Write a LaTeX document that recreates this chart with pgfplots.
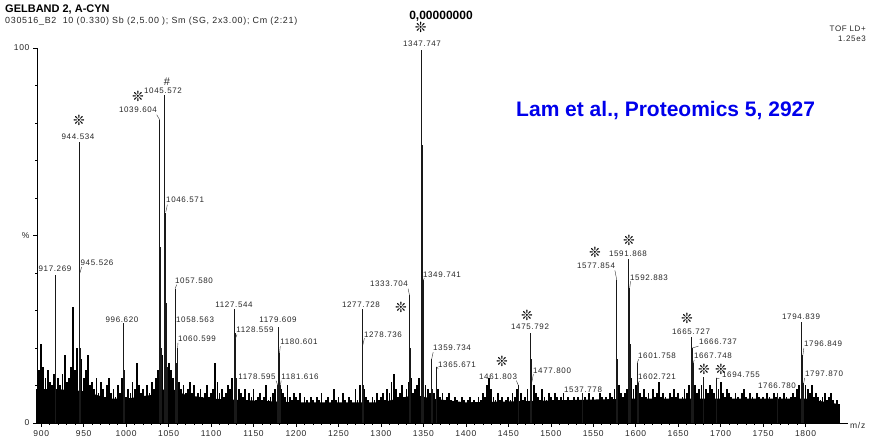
\documentclass[border=0pt]{standalone}
\usepackage{pgfplots}
\pgfplotsset{compat=1.18}
\usepackage{fontspec}
\setmainfont{Liberation Sans}
\newfontfamily\lab[LetterSpace=8]{Liberation Sans}
\newfontfamily\sym{DejaVu Sans}
\definecolor{lamblue}{RGB}{0,0,235}
\newcommand{\pk}{\fontsize{8}{8}\lab}
\newcommand{\aster}{❊}
\begin{document}
\begin{tikzpicture}[x=1pt,y=1pt]
\path[use as bounding box] (-37,-15) rectangle (835,423);
\begin{axis}[
  scale only axis, width=811pt, height=375pt,
  at={(0,0)}, anchor=south west,
  xmin=895, xmax=1850, ymin=0, ymax=100,
  axis lines=left, axis line style={-, line width=0.6pt},
  tick align=outside, major tick length=4pt, minor tick length=2pt,
  tick style={line width=0.5pt, black},
  xtick={900,950,...,1800},
  xticklabels={900,950,1000,1050,1100,1150,1200,1250,1300,1350,1400,1450,1500,1550,1600,1650,1700,1750,1800},
  minor x tick num=4,
  ytick={0,50,100}, yticklabels={0,\%,100}, minor y tick num=4,
  x tick label style={font=\fontsize{8.5}{8.5}\lab, text=black!85},
  y tick label style={font=\fontsize{8.5}{8.5}\lab, text=black!85},
  clip=false,
]
% baseline fill
\addplot[fill=black, draw=none] coordinates {(895,9)(920,9)(950,8.5)(980,6.5)(1000,6.5)(1030,7.5)(1050,9.5)(1070,7.5)(1100,6.5)(1150,6)(1200,5.5)(1300,5.5)(1340,7.5)(1360,6.5)(1400,5.5)(1500,6)(1600,6.5)(1700,6.5)(1800,6.5)(1840,5)} \closedcycle;
% noise
\addplot[ycomb, black, line width=1.8pt, mark=none] coordinates {
(895,9)(897.5,14)(900,21)(902.5,15)(905,12)(907.5,14)(910,11)(912.5,10)(915,13)(920,12)
(922.5,10)(925,13)(927.5,18)(930,11)(932.5,12)(935,15)(937.5,31)(940,14)(942.5,20)(947.5,17)
(950,12)(952.5,14)(955,18)(957.5,10)(960,11)(962.5,9)(965,12)(967.5,8)(970,11)(972.5,9)
(975,7)(977.5,10)(980,12)(982.5,8)(985,9)(987.5,7)(990,10)(992.5,8)(995,12)(997.5,13)
(1000,7)(1002.5,9)(1005,8)(1007.5,11)(1010,9)(1012.5,16)(1015,10)(1017.5,8)(1020,9)(1022.5,7)
(1025,10)(1027.5,8)(1030,11)(1032.5,9)(1035,12)(1037.5,14)(1042.5,18)(1050,16)(1052.5,14)(1055,12)
(1062.5,11)(1065,9)(1067.5,10)(1070,8)(1072.5,9)(1075,11)(1077.5,8)(1080,10)(1082.5,7)(1085,8)
(1087.5,9)(1090,7)(1092.5,8)(1095,10)(1097.5,7)(1100,8)(1102.5,9)(1105,16)(1107.5,11)(1110,8)
(1112.5,9)(1115,7)(1117.5,8)(1120,10)(1122.5,9)(1125,12)(1130,12)(1132.5,9)(1135,8)(1137.5,7)
(1140,9)(1142.5,6)(1145,8)(1147.5,7)(1150,9)(1152.5,6)(1155,7)(1157.5,8)(1160,6)(1162.5,7)
(1165,10)(1167.5,6)(1170,7)(1172.5,8)(1175,9)(1182.5,9)(1185,8)(1187.5,7)(1190,10)(1192.5,7)
(1195,6)(1197.5,8)(1200,7)(1202.5,6)(1205,8)(1207.5,5)(1210,7)(1212.5,6)(1215,5)(1217.5,7)
(1220,6)(1222.5,5)(1225,7)(1227.5,6)(1230,8)(1232.5,5)(1235,6)(1237.5,7)(1240,5)(1242.5,6)
(1245,9)(1247.5,6)(1250,7)(1252.5,5)(1255,8)(1257.5,6)(1260,5)(1262.5,7)(1265,6)(1267.5,5)
(1270,9)(1272.5,6)(1275,10)(1280,9)(1282.5,7)(1285,6)(1287.5,5)(1290,7)(1292.5,6)(1295,8)
(1297.5,6)(1300,7)(1302.5,8)(1305,6)(1307.5,9)(1310,8)(1312.5,11)(1315,13)(1317.5,9)(1320,7)
(1322.5,8)(1325,10)(1327.5,7)(1330,9)(1332.5,11)(1335,12)(1337.5,8)(1340,9)(1342.5,10)(1345,12)
(1350,14)(1352.5,10)(1355,9)(1357.5,8)(1362.5,8)(1367.5,9)(1370,7)(1372.5,8)(1375,6)(1377.5,7)
(1380,8)(1382.5,6)(1385,5)(1387.5,7)(1390,6)(1392.5,5)(1395,7)(1397.5,6)(1400,5)(1402.5,6)
(1405,7)(1407.5,5)(1410,6)(1412.5,5)(1415,7)(1417.5,6)(1420,8)(1422.5,7)(1425,10)(1427.5,12)
(1430,9)(1432.5,7)(1435,6)(1437.5,8)(1440,6)(1442.5,7)(1445,5)(1447.5,6)(1450,7)(1452.5,6)
(1455,8)(1457.5,7)(1460,9)(1465,8)(1467.5,6)(1470,7)(1472.5,9)(1480,10)(1482.5,8)(1485,7)
(1487.5,6)(1490,9)(1492.5,7)(1495,6)(1497.5,8)(1500,7)(1502.5,6)(1505,8)(1507.5,7)(1510,6)
(1512.5,7)(1515,8)(1517.5,6)(1520,7)(1522.5,5)(1525,6)(1527.5,7)(1530,6)(1532.5,7)(1535,6)
(1540,7)(1542.5,6)(1545,8)(1547.5,6)(1550,7)(1552.5,5)(1555,6)(1557.5,8)(1560,7)(1562.5,6)
(1565,7)(1567.5,6)(1570,8)(1572.5,7)(1575,9)(1580,10)(1582.5,8)(1585,7)(1587.5,8)(1590,9)
(1595,12)(1597.5,9)(1600,10)(1605,8)(1607.5,7)(1610,9)(1612.5,7)(1615,8)(1617.5,6)(1620,9)
(1622.5,7)(1625,8)(1627.5,11)(1630,7)(1632.5,8)(1635,7)(1637.5,6)(1640,8)(1642.5,7)(1645,9)
(1647.5,7)(1650,8)(1652.5,6)(1655,7)(1657.5,9)(1660,8)(1662.5,10)(1670,10)(1672.5,8)(1675,9)
(1677.5,10)(1682.5,9)(1685,8)(1687.5,10)(1690,9)(1692.5,8)(1697.5,9)(1700,11)(1702.5,8)(1705,7)
(1707.5,9)(1710,8)(1712.5,7)(1715,6)(1717.5,8)(1720,7)(1722.5,6)(1725,8)(1727.5,9)(1730,7)
(1732.5,6)(1735,8)(1737.5,7)(1740,6)(1742.5,8)(1745,7)(1747.5,6)(1750,7)(1752.5,6)(1755,8)
(1757.5,7)(1760,6)(1762.5,8)(1765,7)(1770,7)(1772.5,6)(1775,8)(1777.5,7)(1780,6)(1782.5,7)
(1785,8)(1787.5,7)(1790,9)(1792.5,10)(1800,10)(1802.5,9)(1805,8)(1807.5,10)(1810,7)(1812.5,8)
(1815,7)(1817.5,6)(1820,7)(1822.5,8)(1825,6)(1827.5,7)(1830,8)(1832.5,6)(1835,5)(1837.5,6)(1840,5)
};
% main peaks
\addplot[ycomb, black!90, line width=1pt, mark=none] coordinates {
(917.269,39.5)(944.534,75)(945.526,40)(946.5,20)(996.620,26.7)(997.6,14)
(1039.604,80.8)(1040.6,47)(1041.6,20)(1045.572,87.5)(1046.571,56)(1047.57,32)(1048.6,15)
(1057.580,35.7)(1058.563,25.3)(1059.6,16)(1060.599,20)
(1127.544,30.4)(1128.559,24)(1129.5,12)
(1178.595,10)(1179.609,25.6)(1180.601,18.7)(1181.616,10)
(1277.728,30.4)(1278.736,20.8)(1279.7,10)
(1333.704,34)(1334.7,20)(1347.747,99.5)(1348.731,74)(1349.741,38)(1350.7,14)
(1359.734,17)(1360.7,9)(1365.671,15)
(1461.803,10)(1475.792,24)(1476.8,17)(1477.800,11)(1537.778,8)
(1577.854,38)(1578.9,17)(1591.868,43.7)(1592.883,36)(1593.9,21)
(1601.758,16)(1602.721,10.7)
(1665.727,23)(1666.737,20)(1667.748,16)(1680.2,12.3)(1694.755,12)
(1766.780,8)(1794.839,27)(1795.8,19)(1796.849,18)(1797.870,10.7)
};
% leader lines
\begin{scope}[black!80, line width=0.4pt]
\draw (axis cs:1036,82.2) -- (axis cs:1039.6,80.8);
\draw (axis cs:947.5,41.6) -- (axis cs:945.6,40);
\draw (axis cs:1048.5,58.2) -- (axis cs:1046.6,56.2);
\draw (axis cs:1059.5,36.9) -- (axis cs:1057.6,35.8);
\draw (axis cs:1061,21.4) -- (axis cs:1060.6,20.1);
\draw (axis cs:1130.5,23.6) -- (axis cs:1128.6,22.5);
\draw (axis cs:1181.5,20.5) -- (axis cs:1180.6,18.7);
\draw (axis cs:1176.5,11.3) -- (axis cs:1178.6,10);
\draw (axis cs:1182.5,11.3) -- (axis cs:1181.6,10);
\draw (axis cs:1280.5,22.6) -- (axis cs:1278.7,20.8);
\draw (axis cs:1332.0,35.8) -- (axis cs:1333.7,34);
\draw (axis cs:1351,38.6) -- (axis cs:1349.7,38);
\draw (axis cs:1361.5,18.9) -- (axis cs:1359.7,17);
\draw (axis cs:1367.5,14.4) -- (axis cs:1365.7,15);
\draw (axis cs:1459.5,11.3) -- (axis cs:1461.8,10);
\draw (axis cs:1479.5,13) -- (axis cs:1477.8,11);
\draw (axis cs:1575.5,40.7) -- (axis cs:1577.8,38);
\draw (axis cs:1594,37.8) -- (axis cs:1592.9,36);
\draw (axis cs:1603.5,17) -- (axis cs:1601.8,16);
\draw (axis cs:1604.5,11.2) -- (axis cs:1602.7,10.7);
\draw (axis cs:1674,20.5) -- (axis cs:1666.7,20);
\draw (axis cs:1669,16.8) -- (axis cs:1667.7,16);
\draw (axis cs:1698.5,11.8) -- (axis cs:1694.8,12);
\draw (axis cs:1798,20) -- (axis cs:1796.8,18);
\draw (axis cs:1799,12) -- (axis cs:1797.9,10.7);
\end{scope}
% peak labels
\begin{scope}[every node/.style={inner sep=0pt, anchor=base, text=black!85, font=\pk}]
\node at (axis cs:1348.4,100.3) {1347.747};
\node at (axis cs:943.3,75.5) {944.534};
\node at (axis cs:1013.9,82.7) {1039.604};
\node at (axis cs:1043.4,87.9) {1045.572};
\node[anchor=base west] at (axis cs:1046.9,58.7) {1046.571};
\node at (axis cs:916.2,40.3) {917.269};
\node at (axis cs:965.7,42.1) {945.526};
\node at (axis cs:1079.9,37.3) {1057.580};
\node at (axis cs:995.1,26.9) {996.620};
\node at (axis cs:1081.1,26.9) {1058.563};
\node at (axis cs:1083.4,21.6) {1060.599};
\node at (axis cs:1127.0,30.7) {1127.544};
\node at (axis cs:1151.7,24.0) {1128.559};
\node at (axis cs:1178.8,26.7) {1179.609};
\node at (axis cs:1203.5,20.8) {1180.601};
\node at (axis cs:1154.1,11.5) {1178.595};
\node at (axis cs:1204.7,11.5) {1181.616};
\node at (axis cs:1276.5,30.9) {1277.728};
\node at (axis cs:1302.4,22.9) {1278.736};
\node at (axis cs:1309.5,36.3) {1333.704};
\node at (axis cs:1371.9,38.9) {1349.741};
\node at (axis cs:1383.7,19.2) {1359.734};
\node at (axis cs:1389.6,14.7) {1365.671};
\node at (axis cs:1437.9,11.7) {1461.803};
\node at (axis cs:1475.6,24.8) {1475.792};
\node at (axis cs:1501.5,13.3) {1477.800};
\node at (axis cs:1538.0,8.0) {1537.778};
\node at (axis cs:1553.3,41.1) {1577.854};
\node at (axis cs:1590.9,44.3) {1591.868};
\node at (axis cs:1615.7,38.1) {1592.883};
\node at (axis cs:1625.1,17.3) {1601.758};
\node at (axis cs:1625.1,11.5) {1602.721};
\node at (axis cs:1665.2,23.7) {1665.727};
\node at (axis cs:1696.9,20.8) {1666.737};
\node at (axis cs:1691.0,17.1) {1667.748};
\node at (axis cs:1724.0,12.0) {1694.755};
\node at (axis cs:1766.4,9.3) {1766.780};
\node at (axis cs:1794.7,27.7) {1794.839};
\node at (axis cs:1820.6,20.3) {1796.849};
\node at (axis cs:1821.8,12.3) {1797.870};
\end{scope}
% asterisks and marker symbols
\begin{scope}[every node/.style={inner sep=0pt, anchor=center, text=black, font=\fontsize{14}{14}\sym}]
\node at (axis cs:1347,105.6) {\aster};
\node at (axis cs:944.5,80.6) {\aster};
\node at (axis cs:1013.9,87.0) {\aster};
\node at (axis cs:1323.6,30.7) {\aster};
\node at (axis cs:1442.6,16.3) {\aster};
\node at (axis cs:1472.0,28.6) {\aster};
\node at (axis cs:1552.1,45.4) {\aster};
\node at (axis cs:1592.1,48.6) {\aster};
\node at (axis cs:1660.4,28.0) {\aster};
\node at (axis cs:1680.5,14.4) {\aster};
\node at (axis cs:1700.5,14.4) {\aster};
\end{scope}
\node[inner sep=0pt, anchor=center, font=\fontsize{11}{11}\selectfont, text=black!85] at (axis cs:1048.1,91.0) {\#};
\node[inner sep=0pt, anchor=base west, font=\fontsize{21}{21}\selectfont\bfseries, text=lamblue] at (axis cs:1459.1,81.6) {Lam et al., Proteomics 5, 2927};
\node[inner sep=0pt, anchor=west, font=\fontsize{8.5}{8.5}\lab, text=black!85] at ([xshift=2pt,yshift=-2pt]rel axis cs:1,0) {m/z};
\end{axis}
% header
\node[inner sep=0pt, anchor=base west, font=\fontsize{11}{11}\selectfont\bfseries] at (-32,410) {GELBAND 2, A-CYN};
\node[inner sep=0pt, anchor=base west, font=\fontsize{8.9}{8.9}\lab, text=black!85] at (-32,399) {030516\_B2\ \ 10 (0.330) Sb (2,5.00 ); Sm (SG, 2x3.00); Cm (2:21)};
\node[inner sep=0pt, anchor=base, font=\fontsize{12}{12}\selectfont\bfseries] at (404,403) {0,00000000};
\node[inner sep=0pt, anchor=base east, font=\fontsize{8}{8}\lab, text=black!85] at (829,391) {TOF LD+};
\node[inner sep=0pt, anchor=base east, font=\fontsize{8}{8}\lab, text=black!85] at (829,381) {1.25e3};
\end{tikzpicture}
\end{document}
